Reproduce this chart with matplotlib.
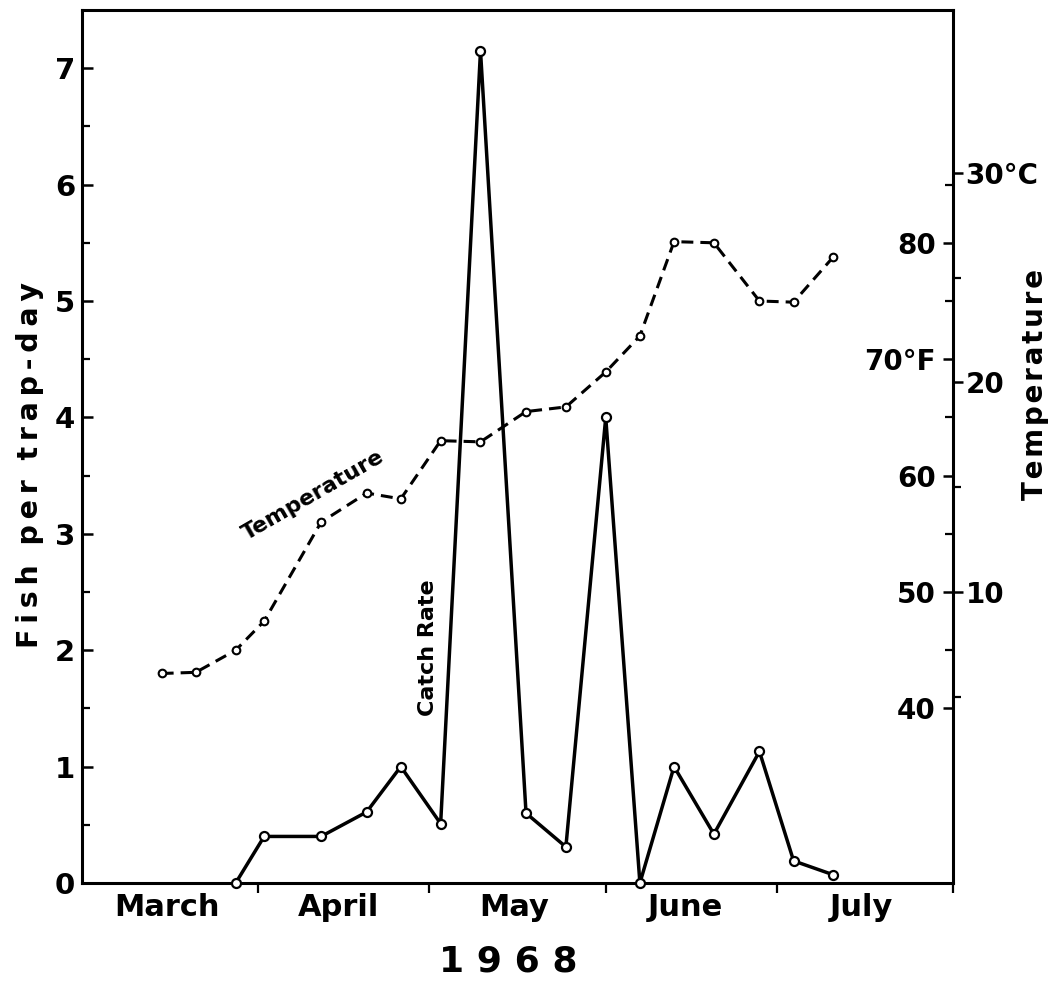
import numpy as np
import matplotlib
matplotlib.use("Agg")
import matplotlib.pyplot as plt

plt.rcParams['font.family'] = ['DejaVu Sans']
plt.rcParams['font.weight'] = 'bold'

# ---------------- data ----------------
catch_dates = ['1968-03-28', '1968-04-02', '1968-04-12', '1968-04-20', '1968-04-26',
               '1968-05-03', '1968-05-10', '1968-05-18', '1968-05-25', '1968-06-01',
               '1968-06-07', '1968-06-13', '1968-06-20', '1968-06-28', '1968-07-04',
               '1968-07-11']
catch_rate = [0.0, 0.40, 0.40, 0.61, 1.0, 0.51, 7.15, 0.60, 0.31, 4.0,
              0.0, 1.0, 0.42, 1.13, 0.19, 0.07]

temp_dates = ['1968-03-15', '1968-03-21', '1968-03-28', '1968-04-02', '1968-04-12',
              '1968-04-20', '1968-04-26', '1968-05-03', '1968-05-10', '1968-05-18',
              '1968-05-25', '1968-06-01', '1968-06-07', '1968-06-13', '1968-06-20',
              '1968-06-28', '1968-07-04', '1968-07-11']
temp_f = [43.0, 43.1, 45.0, 47.5, 56.0, 58.5, 58.0, 63.0, 62.9, 65.5,
          65.9, 68.9, 72.0, 80.1, 80.0, 75.0, 74.9, 78.8]

month_names = ['March', 'April', 'May', 'June', 'July']
month_mids = ['1968-03-16', '1968-04-15', '1968-05-16', '1968-06-15', '1968-07-16']
month_bounds = ['1968-04-01', '1968-05-01', '1968-06-01', '1968-07-01', '1968-08-01']

left_ticks = [0, 1, 2, 3, 4, 5, 6, 7]
f_ticks = [40, 50, 60, 70, 80]
f_labels = ['40', '50', '60', '70°F', '80']
f_minor = [45, 55, 65, 75, 85]
c_ticks = [10, 20, 30]
c_labels = ['10', '20', '30°C']
c_minor = [5, 15, 25]
year_label = '1968'

# ---------------- figure ----------------
W, H = 1060, 985
fig = plt.figure(figsize=(W / 100, H / 100), dpi=100)
x0, x1, y0, y1 = 82, 953, 883, 10
ax = fig.add_axes([x0 / W, 1 - y0 / H, (x1 - x0) / W, (y0 - y1) / H])

cd = np.array(catch_dates, dtype='datetime64[D]')
td = np.array(temp_dates, dtype='datetime64[D]')

ax.set_xlim(np.datetime64('1968-03-01'), np.datetime64('1968-08-01'))
ax.set_ylim(0, 7.5)

ax.plot(cd, catch_rate, color='black', lw=2.5, marker='o', ms=6.5,
        mfc='white', mec='black', mew=1.6, clip_on=False, zorder=5)

for s in ax.spines.values():
    s.set_linewidth(2.2)

# x axis
ax.set_xticks(np.array(month_bounds, dtype='datetime64[D]'))
ax.set_xticklabels([''] * len(month_bounds))
ax.set_xticks(np.array(month_mids, dtype='datetime64[D]'), minor=True)
ax.set_xticklabels(month_names, minor=True)
ax.tick_params(axis='x', which='major', direction='out', length=7, width=1.6)
ax.tick_params(axis='x', which='minor', length=0, pad=7, labelsize=22)

# left y axis
ax.set_yticks(left_ticks)
ax.set_yticks(np.arange(0.5, 7.5, 1.0), minor=True)
ax.tick_params(axis='y', which='major', direction='in', length=8, width=1.8,
               pad=5, labelsize=21)
ax.tick_params(axis='y', which='minor', direction='in', length=6, width=1.6)

# Fahrenheit scale (labels left of right spine)
axF = ax.twinx()
axF.set_ylim(25, 100)
axF.spines['left'].set_position(('axes', 1.0))
axF.yaxis.set_ticks_position('left')
for s in axF.spines.values():
    s.set_visible(False)
axF.set_yticks(f_ticks)
axF.set_yticklabels(f_labels)
axF.set_yticks(f_minor, minor=True)
axF.tick_params(axis='y', which='major', direction='out', length=7.5, width=1.8,
                pad=5, labelsize=20)
axF.tick_params(axis='y', which='minor', direction='out', length=6, width=1.6)
axF.plot(td, temp_f, color='black', lw=2.2, linestyle=(0, (3.9, 2.3)),
         marker='o', ms=5.5, mfc='white', mec='black', mew=1.5, zorder=4)

# Celsius scale (right of spine)
axC = ax.twinx()
axC.set_ylim((25 - 32) / 1.8, (100 - 32) / 1.8)
for s in axC.spines.values():
    s.set_visible(False)
axC.set_yticks(c_ticks)
axC.set_yticklabels(c_labels)
axC.set_yticks(c_minor, minor=True)
axC.tick_params(axis='y', which='major', direction='out', length=7, width=1.8,
                pad=2, labelsize=20)
axC.tick_params(axis='y', which='minor', direction='out', length=6, width=1.6)

# annotations
ax.text(0.265, 0.444, 'Temperature', transform=ax.transAxes, rotation=30,
        ha='center', va='center', fontsize=16, fontweight='bold',
        rotation_mode='anchor')
ax.text(0.397, 0.270, 'Catch Rate', transform=ax.transAxes, rotation=90,
        ha='center', va='center', fontsize=16, fontweight='bold')

def spaced(text, gap=' ', word_gap='    '):
    return word_gap.join(gap.join(w) for w in text.split(' '))

fig.text(30 / W, 1 - 465 / H, spaced('Fish per trap-day', gap='\u2009', word_gap='  '),
         rotation=90, ha='center', va='center', fontsize=20.5, fontweight='bold')
fig.text(1035 / W, 1 - 384 / H, spaced('Temperature', gap='\u200a'), rotation=90,
         ha='center', va='center', fontsize=20, fontweight='bold')
fig.text(508 / W, 1 - 962 / H, ' '.join(year_label),
         ha='center', va='center', fontsize=26, fontweight='bold')

fig.savefig('out.png', dpi=100)
